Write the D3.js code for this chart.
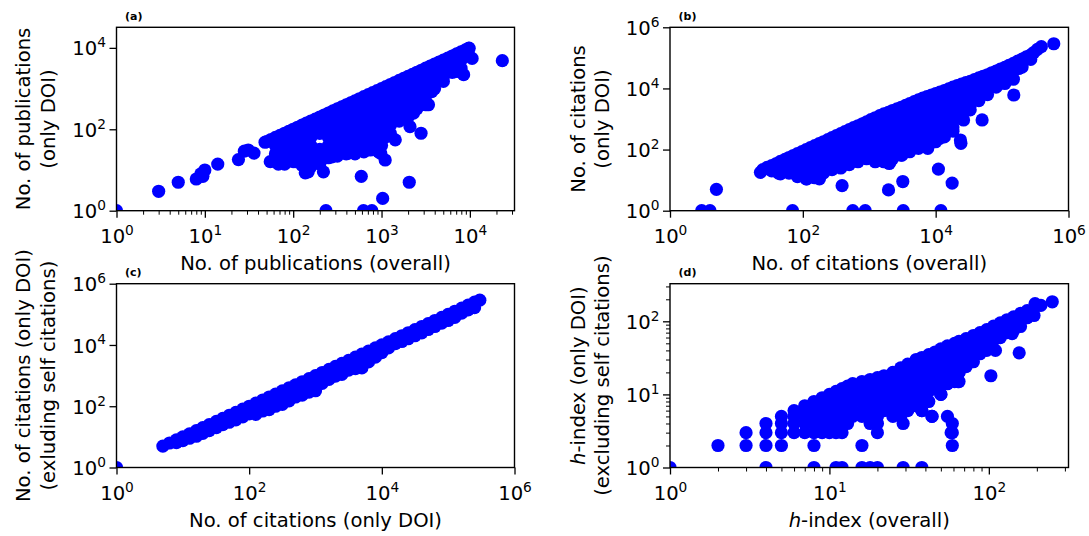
<!DOCTYPE html>
<html>
<head>
<meta charset="utf-8">
<script src="https://cdn.jsdelivr.net/npm/d3@7"></script>
<style>
  body { margin: 0; background: #fff; }
  svg { display: block; }
  text { font-family: "DejaVu Sans", sans-serif; fill: #000; }
</style>
</head>
<body>
<svg id="fig" width="1089" height="536"></svg>
<script>
// ---- data (log-log scatter panels) ----

// tick values
var ticksPub = [1, 10, 100, 1000, 10000];
var ticksPubY = [1, 100, 10000];
var ticksCit = [1, 100, 10000, 1000000];
var ticksH = [1, 10, 100];

// (a) publications overall vs only DOI: [x, [y...]] columns plus outliers
var pubCols = [
  [50, [50]], [56, [56]], [63, [63, 40, 25, 16]], [71, [71]], [80, [80, 50, 32, 20, 14]],
  [89, [89]], [100, [100, 63, 40, 25, 16]], [112, [112]], [126, [126, 79, 50, 32, 20, 13]],
  [141, [141]], [158, [158, 100, 63, 40, 25, 16, 12]], [178, [178]],
  [200, [200, 126, 79, 32, 20, 14]], [224, [224]], [251, [251, 158, 100, 63, 40, 25, 20]],
  [282, [282]], [316, [316, 200, 126, 79, 50, 32, 22]], [355, [355]],
  [398, [398, 251, 158, 100, 63, 40, 25]], [447, [447]], [501, [501, 316, 200, 126, 79, 50, 32, 25]],
  [562, [562]], [631, [631, 398, 251, 158, 100, 63, 40, 28]], [708, [708]],
  [794, [794, 501, 316, 200, 126, 79, 50, 32]], [891, [891]],
  [1000, [1000, 631, 398, 251, 158, 100, 63, 40]], [1120, [1120]],
  [1259, [1259, 794, 501, 316, 200, 126, 79]], [1410, [1410]],
  [1585, [1585, 1000, 631, 398, 251, 158]], [1780, [1780]],
  [1995, [1995, 1259, 794, 501, 316, 200]], [2240, [2240]],
  [2512, [2512, 1585, 1000, 631, 398, 320]], [2820, [2820]],
  [3162, [3162, 1995, 1259, 794, 501, 400]], [3550, [3550]],
  [3981, [3981, 2512, 1585, 1000]], [4470, [4470]], [5012, [5012, 3162, 1995, 1500]],
  [5620, [5620]], [6310, [6310, 3981, 2512]], [7080, [7080]],
  [7943, [7943, 5012, 3162, 2500]], [8910, [8910]], [9800, [9800, 6310]]
];
var pubOutliers = [
  [1, 1], [3, 3], [5, 5], [8, 6], [9, 8], [10, 10], [9.5, 7], [14, 14], [24, 18], [28, 29],
  [31, 31], [36, 26], [48, 48], [55, 16], [68, 14], [105, 16], [133, 17.6], [137, 8.5],
  [148, 9], [220, 9], [235, 1], [275, 21], [415, 25.7], [590, 7], [625, 1], [777, 1],
  [1030, 2], [2060, 5], [1100, 17.6], [925, 28], [745, 31], [980, 25.7], [650, 60],
  [1130, 66], [1430, 55], [2100, 116], [2800, 80], [1950, 225], [2300, 250], [3400, 400],
  [3700, 840], [6800, 2600], [8500, 2200], [10600, 5500], [23300, 4850], [9700, 9700]
];

// (b) citations overall vs only DOI
var citCols = [
  [25, [22]], [29, [26]], [34, [30, 20]], [40, [35]], [46, [41, 22, 16]], [54, [48]],
  [62, [55, 30, 17]], [72, [64]], [83, [74, 40, 22, 13]], [97, [86]],
  [112, [100, 55, 30, 16, 11]], [130, [116]], [151, [135, 74, 40, 22, 12]], [176, [156]],
  [204, [180, 100, 55, 30, 17]], [238, [210]], [275, [245, 135, 74, 40, 22]], [320, [285]],
  [372, [330, 180, 100, 55, 30, 25]], [430, [385]], [500, [450, 245, 135, 74, 40, 32]],
  [580, [520]], [676, [600, 330, 180, 100, 55, 40]], [790, [700]],
  [912, [810, 450, 245, 135, 74, 50]], [1060, [950]],
  [1230, [1100, 600, 330, 180, 100, 55, 40]], [1440, [1280]],
  [1660, [1480, 810, 450, 245, 135, 74, 40]], [1940, [1650]],
  [2240, [1900, 1050, 575, 315, 170, 95, 50]], [2620, [2150]],
  [3020, [2400, 1300, 720, 400, 220, 120, 66]], [3530, [2800]],
  [4070, [3200, 1740, 950, 520, 290, 160, 85]], [4760, [3700]],
  [5500, [4200, 2300, 1250, 690, 380, 200, 110]], [6400, [4800]],
  [7400, [5400, 3000, 1600, 880, 480, 260, 140]], [8650, [6100]],
  [10000, [6800, 3700, 2000, 1100, 600, 330, 180]], [11600, [7600]],
  [13500, [8500, 4700, 2500, 1400, 760, 420, 260]], [15700, [9700]],
  [18200, [11000, 6000, 3300, 1800, 1000, 550, 400]], [21100, [12300]],
  [24500, [13800, 7500, 4100, 2300, 1250]], [28500, [15400]],
  [33100, [17000, 9300, 5100, 2800, 2000]], [38400, [19500]],
  [44700, [22000, 12000, 6600, 4000]], [51800, [25000]],
  [60300, [28000, 15500, 8500, 6300]], [69900, [32500]],
  [81300, [37000, 20000, 11000]], [94300, [43000]],
  [110000, [49000, 27000, 14500]], [127000, [57000]],
  [148000, [66000, 36000, 20000]], [172000, [78000]],
  [200000, [91000, 50000]], [232000, [108000]], [270000, [126000, 89000]]
];
var citOutliers = [
  [3, 1], [4, 1], [5, 5], [70, 1], [565, 1], [870, 1], [3250, 1], [12000, 1],
  [23, 18], [30, 24], [43, 17], [115, 11], [178, 11], [390, 6.6], [1950, 4.8], [3200, 9],
  [11000, 23], [17700, 8], [3110, 66], [7420, 141], [23600, 205], [26300, 930],
  [50000, 930], [150000, 6100], [94600, 16600], [178000, 45000], [35300, 5300],
  [6240, 205], [2070, 40], [970, 96], [2000, 35], [5960, 160], [7600, 110], [11500, 233],
  [24000, 160], [25000, 1050], [300000, 150000], [340000, 190000], [390000, 232000],
  [600000, 290000]
];

// (c) citations only DOI vs excluding self citations
var selfCols = [
  [5, [5]], [6.3, [6.3]], [8, [8, 6.5]], [10, [10, 7.5]], [12.6, [12.6, 9]], [16, [16, 10.5]],
  [20, [20, 13]], [25, [25, 16]], [32, [32, 20]], [40, [40, 25]], [50, [50, 30]],
  [63, [63, 36]], [80, [80, 45]], [100, [100, 56]], [126, [126, 70, 54]], [160, [160, 90, 70]],
  [200, [200, 112, 78]], [250, [250, 140, 100]], [316, [316, 178, 115]], [400, [400, 225, 150]],
  [500, [500, 280, 200]], [630, [630, 355, 230]], [800, [800, 450, 290]],
  [1000, [1000, 560, 320]], [1260, [1260, 710, 560]], [1600, [1600, 900, 750]],
  [2000, [2000, 1120, 960]], [2500, [2500, 1400, 1100]], [3160, [3160, 1780, 1500]],
  [4000, [4000, 2250, 1700]], [5000, [5000, 2800, 1780]], [6300, [6300, 3550, 2800]],
  [8000, [8000, 4500, 4000]], [10000, [10000, 5600]], [12600, [12600, 8000]],
  [16000, [16000, 11000]], [20000, [20000, 13000]], [25000, [25000, 16000]],
  [31600, [31600, 20000]], [40000, [40000, 25000]], [50000, [50000, 32000]],
  [63000, [63000, 40000]], [80000, [80000, 52000]], [100000, [100000, 63000]],
  [126000, [126000, 80000]], [160000, [160000, 110000]], [200000, [200000, 140000]],
  [250000, [250000, 165000]], [300000, [290000]]
];
var selfOutliers = [[1, 1]];

// (d) h-index overall vs only DOI excluding self citations
var hCols = [
  [1, [1]], [2, [2]], [3, [2, 3]], [4, [1, 2, 3, 4]], [5, [2, 3, 4, 5]], [6, [3, 4, 5, 6]],
  [7, [3, 4, 5, 6, 7]], [8, [1, 2, 3, 4, 5, 6, 7, 8]], [9, [3, 4, 5, 6, 7, 8, 9]],
  [10, [3, 4, 5, 6, 7, 8, 9, 10]], [11, [1, 3, 4, 5, 6, 7, 8, 9, 10, 11]],
  [12, [1, 3, 4, 5, 6, 7, 8, 9, 10, 12]], [13, [13, 11, 9, 7, 5, 4]], [14, [14, 12, 10, 8, 6, 5]],
  [16, [15, 12, 10, 8, 6, 5, 2, 1]], [18, [16, 13, 10, 8, 6, 5, 4, 1]],
  [20, [17, 14, 11, 9, 7, 5, 4, 3, 1]], [22, [18, 15, 12, 10, 8, 6]],
  [25, [20, 16, 13, 10, 8, 6, 5]], [28, [23, 18, 15, 12, 9, 7, 5]], [29, [4, 1]],
  [31, [26, 21, 17, 13, 10, 8, 6]], [35, [30, 24, 19, 15, 12, 9, 7]],
  [38, [32, 26, 21, 17, 13, 10, 8, 6, 1]], [42, [35, 28, 22, 18, 14, 11, 8]], [44, [5]],
  [46, [38, 30, 24, 19, 15, 12]], [50, [42, 34, 27, 21, 17, 13, 10]],
  [55, [46, 37, 29, 23, 18, 14, 5]], [59, [4, 3, 2]], [61, [50, 40, 32, 25, 20, 15]],
  [65, [53, 42, 34, 27, 20, 15]], [72, [58, 46, 37, 30, 24]], [80, [64, 51, 41, 33, 28]],
  [88, [70, 56, 45, 36]], [97, [77, 62, 50, 40]], [107, [86, 69, 55]], [118, [95, 76, 60]],
  [130, [105, 84, 70]], [143, [115, 92, 75]], [158, [128, 102, 85]], [174, [140, 112]],
  [192, [150, 120]], [212, [165]]
];
var hOutliers = [
  [103, 18], [110, 40], [155, 37], [140, 68], [64, 15], [65, 20], [50, 10], [38, 6],
  [195, 175], [250, 185], [58, 3], [44, 5]
];

// ---- drawing ----
var FS = 19.6;
var svg = d3.select("#fig");

function isPow10(v) {
  var l = Math.log10(v);
  return Math.abs(l - Math.round(l)) < 1e-9;
}

function powText(sel, v) {
  sel.text("10");
  sel.append("tspan")
    .attr("font-size", FS * 0.7)
    .attr("dy", -0.42 * FS)
    .text(Math.round(Math.log10(v)));
}

function flatten(cols, extra) {
  var pts = [];
  cols.forEach(function (c) {
    c[1].forEach(function (yv) { pts.push([c[0], yv]); });
  });
  return pts.concat(extra);
}

function drawPanel(p) {
  var x = d3.scaleLog().domain(p.xDom).range(p.xr);
  var y = d3.scaleLog().domain(p.yDom).range([p.yr[1], p.yr[0]]);
  var g = svg.append("g");

  g.append("clipPath").attr("id", "clip-" + p.tag)
    .append("rect")
    .attr("x", p.xr[0]).attr("y", p.yr[0])
    .attr("width", p.xr[1] - p.xr[0]).attr("height", p.yr[1] - p.yr[0]);

  g.append("g")
    .attr("clip-path", "url(#clip-" + p.tag + ")")
    .selectAll("circle")
    .data(flatten(p.cols, p.extra))
    .join("circle")
    .attr("cx", function (d) { return x(d[0]); })
    .attr("cy", function (d) { return y(d[1]); })
    .attr("r", 6.6)
    .attr("fill", "#0000ff");

  // minor ticks
  if (p.minor) {
    g.append("g")
      .attr("transform", "translate(0," + p.yr[1] + ")")
      .call(d3.axisBottom(x).tickValues(x.ticks().filter(function (v) { return !isPow10(v); }))
        .tickSize(4).tickFormat(""))
      .call(function (s) { s.select(".domain").remove(); s.selectAll("line").attr("stroke-width", 1); });
    g.append("g")
      .attr("transform", "translate(" + p.xr[0] + ",0)")
      .call(d3.axisLeft(y).tickValues(y.ticks().filter(function (v) { return !isPow10(v); }))
        .tickSize(4).tickFormat(""))
      .call(function (s) { s.select(".domain").remove(); s.selectAll("line").attr("stroke-width", 1); });
  }
  if (p.minorX) {
    g.append("g")
      .attr("transform", "translate(0," + p.yr[1] + ")")
      .call(d3.axisBottom(x).tickValues(x.ticks().filter(function (v) { return !isPow10(v); }))
        .tickSize(4).tickFormat(""))
      .call(function (s) { s.select(".domain").remove(); s.selectAll("line").attr("stroke-width", 1); });
  }

  // major ticks + labels
  var xa = g.append("g")
    .attr("transform", "translate(0," + p.yr[1] + ")")
    .call(d3.axisBottom(x).tickValues(p.xTicks).tickSize(7).tickSizeOuter(0));
  xa.select(".domain").remove();
  xa.attr("font-size", null).attr("font-family", null);
  xa.selectAll("line").attr("stroke-width", 1.3);
  xa.selectAll(".tick text")
    .attr("y", 32.6).attr("dy", null).attr("font-size", FS)
    .each(function (d) { powText(d3.select(this), d); });

  var ya = g.append("g")
    .attr("transform", "translate(" + p.xr[0] + ",0)")
    .call(d3.axisLeft(y).tickValues(p.yTicks).tickSize(7).tickPadding(3.5).tickSizeOuter(0));
  ya.select(".domain").remove();
  ya.attr("font-size", null).attr("font-family", null);
  ya.selectAll("line").attr("stroke-width", 1.3);
  ya.selectAll(".tick text")
    .attr("dy", "0.36em").attr("font-size", FS)
    .each(function (d) { powText(d3.select(this), d); });

  // frame
  g.append("rect")
    .attr("x", p.xr[0]).attr("y", p.yr[0])
    .attr("width", p.xr[1] - p.xr[0]).attr("height", p.yr[1] - p.yr[0])
    .attr("fill", "none").attr("stroke", "#000").attr("stroke-width", 1.4);

  // x label
  var xl = g.append("text")
    .attr("x", (p.xr[0] + p.xr[1]) / 2).attr("y", p.yr[1] + 59.5)
    .attr("text-anchor", "middle").attr("font-size", FS);
  p.xlabel(xl);

  // y label (two lines)
  var cy = (p.yr[0] + p.yr[1]) / 2;
  p.ylabel.forEach(function (fn, i) {
    var t = g.append("text")
      .attr("transform", "translate(" + (p.ylx + i * 24.5) + "," + cy + ") rotate(-90)")
      .attr("text-anchor", "middle").attr("font-size", FS);
    fn(t);
  });

  // panel tag
  g.append("text")
    .attr("x", p.xr[0] + 8.5).attr("y", p.yr[0] - 7.5)
    .attr("font-family", "'Liberation Serif', serif")
    .attr("font-weight", "bold").attr("font-size", 11)
    .text("(" + p.tag + ")");
}

function plain(s) { return function (t) { t.text(s); }; }
function hLabel(rest) {
  return function (t) {
    t.append("tspan").attr("font-style", "italic").text("h");
    t.append("tspan").text(rest);
  };
}

var LEFT = [116.5, 514.5], RIGHT = [670, 1068.5];
var TOP = [27.3, 210.7], BOT = [283.7, 467.5];

drawPanel({
  tag: "a", xr: LEFT, yr: TOP, xDom: [1, 32000], yDom: [1, 32000],
  cols: pubCols, extra: pubOutliers, xTicks: ticksPub, yTicks: ticksPubY, minorX: true,
  xlabel: plain("No. of publications (overall)"),
  ylabel: [plain("No. of publications"), plain("(only DOI)")], ylx: 30
});
drawPanel({
  tag: "b", xr: RIGHT, yr: TOP, xDom: [1, 1e6], yDom: [1, 1e6],
  cols: citCols, extra: citOutliers, xTicks: ticksCit, yTicks: ticksCit,
  xlabel: plain("No. of citations (overall)"),
  ylabel: [plain("No. of citations"), plain("(only DOI)")], ylx: 584.5
});
drawPanel({
  tag: "c", xr: LEFT, yr: BOT, xDom: [1, 1e6], yDom: [1, 1e6],
  cols: selfCols, extra: selfOutliers, xTicks: ticksCit, yTicks: ticksCit,
  xlabel: plain("No. of citations (only DOI)"),
  ylabel: [plain("No. of citations (only DOI)"), plain("(exluding self citations)")], ylx: 30
});
drawPanel({
  tag: "d", xr: RIGHT, yr: BOT, xDom: [1, 316], yDom: [1, 327],
  cols: hCols, extra: hOutliers, xTicks: ticksH, yTicks: ticksH, minor: true,
  xlabel: hLabel("-index (overall)"),
  ylabel: [hLabel("-index (only DOI)"), plain("(excluding self citations)")], ylx: 584.5
});
</script>
</body>
</html>
